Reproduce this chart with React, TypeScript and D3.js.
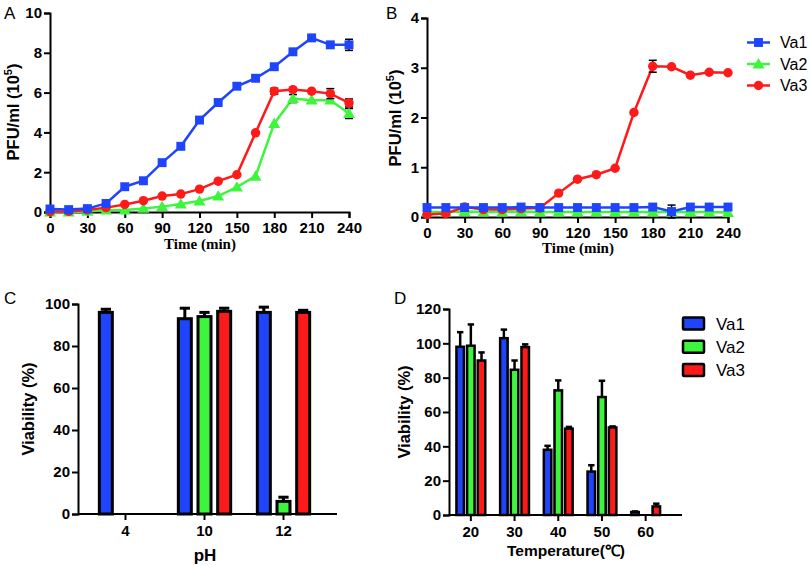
import React, { useEffect, useRef } from 'react';
import * as d3 from 'd3';

// time course (min)
const times = [0, 15, 30, 45, 60, 75, 90, 105, 120, 135, 150, 165, 180, 195, 210, 225, 240];
const seriesNames = ['Va1', 'Va2', 'Va3'];

// panel A, PFU/ml (10^5)
const aVa1 = [0.15, 0.12, 0.17, 0.43, 1.27, 1.57, 2.48, 3.3, 4.62, 5.5, 6.32, 6.72, 7.3, 8.05, 8.75, 8.4, 8.4];
const aVa2 = [0, 0, 0.03, 0.1, 0.1, 0.18, 0.27, 0.4, 0.55, 0.8, 1.25, 1.8, 4.45, 5.7, 5.62, 5.62, 4.95];
const aVa3 = [0.02, 0.03, 0.1, 0.22, 0.38, 0.57, 0.8, 0.9, 1.15, 1.55, 1.87, 3.98, 6.07, 6.15, 6.07, 5.95, 5.48];
const aErr1 = [0, 0, 0, 0, 0, 0, 0, 0, 0, 0, 0.15, 0, 0, 0, 0.08, 0, 0.28];
const aErr2 = [0, 0, 0, 0, 0, 0, 0, 0, 0, 0, 0, 0, 0, 0.2, 0, 0, 0.25];
const aErr3 = [0, 0, 0, 0, 0, 0, 0, 0, 0, 0, 0, 0, 0.15, 0, 0, 0.25, 0.2];

// panel B, PFU/ml (10^5)
const bVa1 = [0.19, 0.19, 0.19, 0.19, 0.19, 0.2, 0.19, 0.19, 0.19, 0.19, 0.19, 0.19, 0.2, 0.11, 0.2, 0.2, 0.2];
const bVa2 = [0.1, 0.1, 0.11, 0.1, 0.1, 0.11, 0.1, 0.1, 0.1, 0.1, 0.1, 0.1, 0.1, 0.1, 0.1, 0.1, 0.09];
const bVa3 = [0.05, 0.07, 0.2, 0.15, 0.15, 0.17, 0.18, 0.48, 0.76, 0.85, 0.98, 2.1, 3.03, 3.02, 2.85, 2.91, 2.9];
const bErr1 = [0, 0, 0, 0, 0, 0, 0, 0, 0, 0, 0, 0, 0, 0.13, 0, 0, 0];
const bErr2 = [0, 0, 0, 0, 0, 0, 0, 0, 0, 0, 0, 0, 0, 0, 0, 0, 0];
const bErr3 = [0, 0, 0, 0, 0, 0, 0, 0, 0, 0, 0, 0, 0.12, 0, 0, 0, 0];

// panel C, viability (%) by pH
const phLevels = ['4', '10', '12'];
const cVa1 = [96, 93, 96];
const cVa2 = [0, 94, 6];
const cVa3 = [0, 96.5, 96];
const cErr1 = [1.5, 5, 2.5];
const cErr2 = [0, 2, 2];
const cErr3 = [0, 1.5, 1];

// panel D, viability (%) by temperature
const tempLevels = ['20', '30', '40', '50', '60'];
const dVa1 = [98, 103, 38, 25.3, 1.7];
const dVa2 = [98.6, 84.6, 72.6, 68.7, 0];
const dVa3 = [90, 97.8, 50.3, 51, 5];
const dErr1 = [8.5, 5, 2.3, 3.7, 0.4];
const dErr2 = [12.4, 5.4, 5.8, 9.5, 0];
const dErr3 = [4.7, 1.6, 1, 0.6, 1.6];

const colors = ['#1f45fc', '#3cf53c', '#ff1a1a'];
const SANS = '"Liberation Sans", Arial, sans-serif';
const SERIF = '"Liberation Serif", "Times New Roman", serif';

export default function App() {
  const ref = useRef<SVGSVGElement>(null);

  useEffect(() => {
    const svg = d3.select(ref.current);
    svg.selectAll('*').remove();

    const styleAxis = (g: any) => {
      g.select('.domain').attr('stroke', '#000').attr('stroke-width', 2);
      g.selectAll('.tick line').attr('stroke', '#000').attr('stroke-width', 2);
      g.selectAll('.tick text')
        .attr('fill', '#000')
        .style('font-family', SANS)
        .style('font-size', '15px')
        .style('font-weight', 'bold');
    };

    const panelLetter = (x: number, y: number, t: string) => {
      svg.append('text').attr('x', x).attr('y', y)
        .style('font-family', SANS).style('font-size', '17px').text(t);
    };

    const yLabel = (x: number, y: number, g: (t: any) => void) => {
      const t = svg.append('text')
        .attr('transform', `translate(${x},${y}) rotate(-90)`)
        .attr('text-anchor', 'middle')
        .style('font-family', SANS).style('font-size', '16.5px').style('font-weight', 'bold');
      g(t);
    };

    const pfuLabel = (t: any) => {
      t.append('tspan').text('PFU/ml (10');
      t.append('tspan').attr('dy', -7).style('font-size', '11px').text('5');
      t.append('tspan').attr('dy', 7).text(')');
    };

    // ---------- line panels ----------
    const drawLines = (
      x0: number, x1: number, y0: number, y1: number, ymax: number,
      series: number[][], errs: number[][]
    ) => {
      const x = d3.scaleLinear().domain([0, 240]).range([x0, x1]);
      const y = d3.scaleLinear().domain([0, ymax]).range([y0, y1]);

      svg.append('g').attr('transform', `translate(0,${y0})`)
        .call(d3.axisBottom(x).tickValues(d3.range(0, 241, 30)).tickSizeOuter(0).tickSize(6).tickPadding(4))
        .call(styleAxis);
      svg.append('g').attr('transform', `translate(${x0},0)`)
        .call(d3.axisLeft(y).ticks(ymax === 10 ? 5 : 4).tickSizeOuter(0).tickSize(6).tickPadding(2))
        .call(styleAxis);

      const line = d3.line<number>().x((d, i) => x(times[i])).y(d => y(d));
      const symbols = [
        d3.symbol().type(d3.symbolSquare).size(80),
        d3.symbol().type(d3.symbolTriangle).size(62),
        d3.symbol().type(d3.symbolCircle).size(70),
      ];
      // Va1 drawn last so it sits on top
      [1, 2, 0].forEach(s => {
        const vals = series[s];
        const g = svg.append('g');
        g.append('path').datum(vals).attr('d', line)
          .attr('fill', 'none').attr('stroke', colors[s]).attr('stroke-width', 2.5);
        vals.forEach((v, i) => {
          const e = errs[s][i];
          if (e > 0) {
            const cx = x(times[i]);
            g.append('line').attr('x1', cx).attr('x2', cx).attr('y1', y(v - e)).attr('y2', y(v + e))
              .attr('stroke', '#000').attr('stroke-width', 1.5);
            [v - e, v + e].forEach(w => {
              g.append('line').attr('x1', cx - 4).attr('x2', cx + 4).attr('y1', y(w)).attr('y2', y(w))
                .attr('stroke', '#000').attr('stroke-width', 1.5);
            });
          }
        });
        g.selectAll('path.m').data(vals).enter().append('path').attr('class', 'm')
          .attr('d', symbols[s]() as string)
          .attr('transform', (d, i) => `translate(${x(times[i])},${y(d) + (s === 1 ? 1 : 0)})`)
          .attr('fill', colors[s]);
      });
      return symbols;
    };

    panelLetter(4, 19, 'A');
    drawLines(50, 349, 212, 13, 10, [aVa1, aVa2, aVa3], [aErr1, aErr2, aErr3]);
    yLabel(19, 112, pfuLabel);
    svg.append('text').attr('x', 200).attr('y', 249).attr('text-anchor', 'middle')
      .style('font-family', SERIF).style('font-size', '15px').style('font-weight', 'bold').text('Time (min)');

    panelLetter(386, 19, 'B');
    const symbols = drawLines(427, 728, 217, 18, 4, [bVa1, bVa2, bVa3], [bErr1, bErr2, bErr3]);
    yLabel(401, 118, pfuLabel);
    svg.append('text').attr('x', 578).attr('y', 253).attr('text-anchor', 'middle')
      .style('font-family', SERIF).style('font-size', '15px').style('font-weight', 'bold').text('Time (min)');

    // legend B
    const legY = d3.scalePoint().domain(seriesNames).range([42.5, 85.5]);
    seriesNames.forEach((n, s) => {
      const yy = legY(n) as number;
      svg.append('line').attr('x1', 747).attr('x2', 770).attr('y1', yy).attr('y2', yy)
        .attr('stroke', colors[s]).attr('stroke-width', 2.5);
      svg.append('path').attr('d', symbols[s]() as string)
        .attr('transform', `translate(758.5,${yy + (s === 1 ? 1 : 0)})`).attr('fill', colors[s]);
      svg.append('text').attr('x', 780).attr('y', yy).attr('dy', '0.36em')
        .style('font-family', SANS).style('font-size', '16px').text(n);
    });

    // ---------- bar panels ----------
    const drawBars = (
      cats: string[], vals: number[][], errs: number[][],
      axX0: number, axX1: number, bandRange: [number, number], groupW: number, barW: number,
      y0: number, y1: number, ymax: number, stroke: number
    ) => {
      const x = d3.scaleBand().domain(cats).range(bandRange).paddingInner(0).paddingOuter(0);
      const inner = d3.scaleBand().domain(seriesNames)
        .range([(x.bandwidth() - groupW) / 2, (x.bandwidth() + groupW) / 2]).padding(0);
      const y = d3.scaleLinear().domain([0, ymax]).range([y0, y1]);

      cats.forEach((c, ci) => {
        seriesNames.forEach((n, s) => {
          const v = vals[s][ci];
          if (v <= 0) return;
          const cx = (x(c) as number) + (inner(n) as number) + inner.bandwidth() / 2;
          const e = errs[s][ci];
          if (e > 0) {
            svg.append('line').attr('x1', cx).attr('x2', cx).attr('y1', y(v)).attr('y2', y(v + e))
              .attr('stroke', '#000').attr('stroke-width', stroke);
            svg.append('line').attr('x1', cx - barW * 0.32).attr('x2', cx + barW * 0.32)
              .attr('y1', y(v + e)).attr('y2', y(v + e))
              .attr('stroke', '#000').attr('stroke-width', stroke);
          }
          svg.append('rect')
            .attr('x', cx - barW / 2 + stroke / 2).attr('width', barW - stroke)
            .attr('y', y(v)).attr('height', y0 - y(v))
            .attr('fill', colors[s]).attr('stroke', '#000').attr('stroke-width', stroke);
        });
      });

      const xa = svg.append('g').attr('transform', `translate(0,${y0})`)
        .call(d3.axisBottom(x).tickSizeOuter(0).tickSize(6).tickPadding(5))
        .call(styleAxis);
      xa.select('.domain').remove();
      svg.append('line').attr('x1', axX0).attr('x2', axX1).attr('y1', y0).attr('y2', y0)
        .attr('stroke', '#000').attr('stroke-width', 2);
      svg.append('g').attr('transform', `translate(${axX0},0)`)
        .call(d3.axisLeft(y).ticks(ymax / 20).tickSizeOuter(0).tickSize(6).tickPadding(2))
        .call(styleAxis);
    };

    panelLetter(4, 304, 'C');
    drawBars(phLevels, [cVa1, cVa2, cVa3], [cErr1, cErr2, cErr3],
      78, 337, [86, 323], 59, 16, 514, 304, 100, 3);
    yLabel(34, 409, t => t.text('Viability (%)'));
    svg.append('text').attr('x', 205).attr('y', 561).attr('text-anchor', 'middle')
      .style('font-family', SANS).style('font-size', '17px').style('font-weight', 'bold').text('pH');

    panelLetter(394, 304, 'D');
    drawBars(tempLevels, [dVa1, dVa2, dVa3], [dErr1, dErr2, dErr3],
      449, 682, [449, 667.5], 32, 10, 515, 309, 120, 2.5);
    yLabel(410, 412, t => t.text('Viability (%)'));
    svg.append('text').attr('x', 566).attr('y', 556).attr('text-anchor', 'middle')
      .style('font-family', SANS).style('font-size', '15.5px').style('font-weight', 'bold').text('Temperature(℃)');

    // legend D
    const legD = d3.scalePoint().domain(seriesNames).range([323.5, 370]);
    seriesNames.forEach((n, s) => {
      const yy = legD(n) as number;
      svg.append('rect').attr('x', 683).attr('y', yy - 6).attr('width', 21).attr('height', 12)
        .attr('fill', colors[s]).attr('stroke', '#000').attr('stroke-width', 2.5).attr('rx', 1);
      svg.append('text').attr('x', 716).attr('y', yy).attr('dy', '0.36em')
        .style('font-family', SANS).style('font-size', '17px').text(n);
    });
  }, []);

  return (
    <svg ref={ref} width={810} height={565}
      style={{ position: 'absolute', left: 0, top: 0, background: '#fff' }} />
  );
}
